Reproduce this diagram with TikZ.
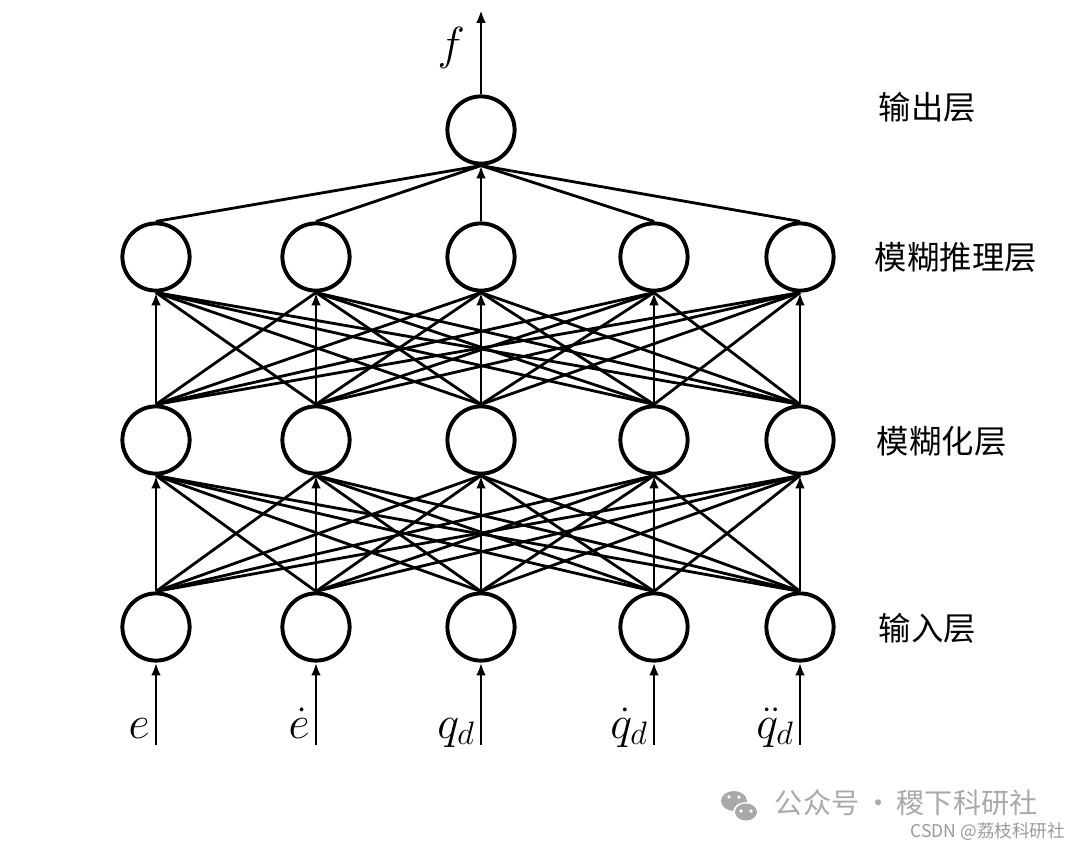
\RequirePackage{fix-cm}
\documentclass[tikz,border=0pt]{standalone}
\usepackage{amsmath}
\usepackage{fontspec}
\usepackage{tikz}
\usetikzlibrary{arrows.meta}
\newfontfamily\cjkfont{Noto Sans CJK SC}
\definecolor{markGray}{HTML}{A9A9A9}
\definecolor{csdnGray}{HTML}{9A9A9A}

\begin{document}
\begin{tikzpicture}[x=0.025cm, y=-0.025cm,
    neuron/.style={circle, draw, line width=2.8pt, minimum size=1.68cm, inner sep=0pt},
    link/.style={line width=2pt},
    feed/.style={line width=2pt, -{Latex[length=0.32cm, width=0.24cm]}},
    layername/.style={anchor=west, font=\cjkfont\fontsize{23}{26}\selectfont},
    sig/.style={font=\fontsize{33}{36}\selectfont}]
    \useasboundingbox (0,0) rectangle (1080,848);
    % three rows of five neurons, one output
    \foreach \i/\x in {1/156, 2/316, 3/481, 4/654, 5/800} {
        \node[neuron] (in\i) at (\x,627) {};
        \node[neuron] (fz\i) at (\x,440) {};
        \node[neuron] (ru\i) at (\x,257) {};
    }
    \node[neuron] (out) at (481,130) {};
    % full connections between the rows
    \foreach \i in {1,...,5} {
        \foreach \j in {1,...,5} {
            \ifnum\i=\j\else
                \draw[link] (in\i.north) -- (fz\j.south);
                \draw[link] (fz\i.north) -- (ru\j.south);
            \fi
        }
        \draw[feed] (in\i.north) -- (fz\i.south);
        \draw[feed] (fz\i.north) -- (ru\i.south);
    }
    \foreach \j in {1,2,4,5}
        \draw[link] (ru\j.north) -- (out.south);
    \draw[feed] (ru3.north) -- (out.south);
    % output signal
    \coordinate (top) at (481,10);
    \draw[feed] (out.north) -- (top);
    \node[sig, anchor=east] (flabel) at (470,48) {$f$};
    % input signals
    \foreach \i/\x/\lab in {1/156/{$e$}, 2/316/{$\dot{e}$}, 3/481/{$q_d$},
                            4/654/{$\dot{q}_d$}, 5/800/{$\ddot{q}_d$}} {
        \coordinate (src\i) at (\x,745);
        \draw[feed] (src\i) -- (in\i.south);
        \node[sig, anchor=base east, inner xsep=0pt] (lab\i) at (\x-6,738) {\lab};
    }
    % layer names
    \node[layername] (nout) at (874,107) {输出层};
    \node[layername] (nru) at (870,257) {模糊推理层};
    \node[layername] (nfz) at (872,441) {模糊化层};
    \node[layername] (nin) at (874,628) {输入层};
    % watermark
    \fill[markGray] (734,801) ellipse (13 and 10);
    \fill[white] (746,812) ellipse (13 and 10);
    \fill[markGray] (746,812) ellipse (11 and 8.5);
    \fill[white] (741,811) circle (1.8) (751,811) circle (1.8);
    \fill[white] (729,797) circle (1.8) (739,797) circle (1.8);
    \node[anchor=west, text=markGray, font=\cjkfont\fontsize{20}{24}\selectfont]
        (wm) at (770,803) {公众号\,·\,稷下科研社};
    \node[anchor=east, text=csdnGray, font=\cjkfont\fontsize{12.5}{14}\selectfont]
        (csdn) at (1070,832) {CSDN @荔枝科研社};
\end{tikzpicture}
\end{document}
